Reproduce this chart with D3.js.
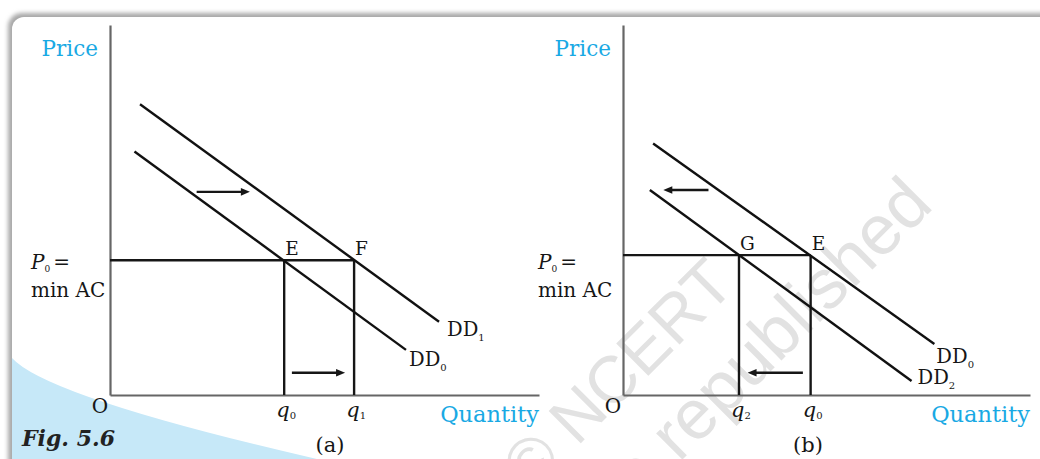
<!DOCTYPE html>
<html>

<head>
    <meta charset="UTF-8">
    <title>Fig. 5.6</title>
    <style>
        body { margin: 0; background: #fff; }
        svg text { font-family: "DejaVu Serif", serif; }
    </style>
</head>

<body>
    <script src="https://cdn.jsdelivr.net/npm/d3@7"></script>

    <svg id="svg" width="1040" height="459"></svg>

    <script>
        // values are on a 0-100 scale for each panel
        // panel (a): demand shifts out, DD0 -> DD1
        const curvesA = [
            { name: "DD", sub: "1", pts: [[7.0, 78.6], [76.7, 19.8]] },
            { name: "DD", sub: "0", pts: [[5.7, 65.8], [69.0, 12.2]] }
        ];
        const priceA = 36.4;
        const pointsA = [
            { tag: "E", q: "q", sub: "0", x: 40.6 },
            { tag: "F", q: "q", sub: "1", x: 56.9 }
        ];
        const arrowsA = [
            [[20.2, 54.9], [32.6, 54.9]],
            [[42.4, 6.0], [54.8, 6.0]]
        ];

        // panel (b): demand shifts in, DD0 -> DD2
        const curvesB = [
            { name: "DD", sub: "0", pts: [[7.4, 68.0], [76.5, 13.8]] },
            { name: "DD", sub: "2", pts: [[6.6, 55.4], [70.9, 3.8]] }
        ];
        const priceB = 37.8;
        const pointsB = [
            { tag: "G", q: "q", sub: "2", x: 28.5 },
            { tag: "E", q: "q", sub: "0", x: 46.1 }
        ];
        const arrowsB = [
            [[21.0, 55.4], [9.9, 55.4]],
            [[44.2, 6.0], [30.6, 6.0]]
        ];

        const blue = "#19a9e4";
        const ink = "#161616";
        const svg = d3.select("#svg");

        // card frame with shadow
        const defs = svg.append("defs");
        defs.append("filter").attr("id", "blur")
            .attr("x", "-5%").attr("y", "-5%").attr("width", "110%").attr("height", "110%")
            .append("feGaussianBlur").attr("stdDeviation", 2.2);
        defs.append("clipPath").attr("id", "card")
            .append("rect").attr("x", 12).attr("y", 17).attr("width", 1100).attr("height", 600).attr("rx", 12);

        svg.append("rect").attr("x", 8).attr("y", 13).attr("width", 1100).attr("height", 600)
            .attr("rx", 14).attr("fill", "#a8a8a8").attr("filter", "url(#blur)");
        svg.append("rect").attr("x", 12).attr("y", 17).attr("width", 1100).attr("height", 600)
            .attr("rx", 12).attr("fill", "#fff");
        svg.append("path").attr("clip-path", "url(#card)")
            .attr("d", "M12,358 Q48,398 330,462 L12,462 Z")
            .attr("fill", "#c6e8f8");

        // watermark
        const wm = svg.append("g").attr("fill", "#e2e2e2");
        wm.append("text").attr("transform", "translate(737,287) rotate(-45)")
            .attr("text-anchor", "end").style("font-family", "'Liberation Sans', sans-serif")
            .attr("font-size", 66).text("\u00a9 NCERT");
        wm.append("text").attr("transform", "translate(935,207) rotate(-45)")
            .attr("text-anchor", "end").style("font-family", "'Liberation Sans', sans-serif")
            .attr("font-size", 70).text("not to be republished");

        const drawPanel = function (cfg) {
            const x = d3.scaleLinear().domain([0, 100]).range(cfg.xr);
            const y = d3.scaleLinear().domain([0, 100]).range([395, 25]);
            const g = svg.append("g");

            // axes (no ticks, only the domain line)
            g.append("g").attr("transform", `translate(0,${y(0)})`)
                .call(d3.axisBottom(x).tickValues([]).tickSizeOuter(0));
            g.append("g").attr("transform", `translate(${x(0)},0)`)
                .call(d3.axisLeft(y).tickValues([]).tickSizeOuter(0));
            g.selectAll(".domain").attr("stroke", "#666").attr("stroke-width", 2.2);

            const line = d3.line().x(d => x(d[0])).y(d => y(d[1]));

            // price line and the two quantity drops
            const right = d3.max(cfg.points, d => d.x);
            g.append("path").attr("d", line([[0, cfg.price], [right, cfg.price]]))
                .attr("stroke", ink).attr("stroke-width", 2.4).attr("fill", "none");
            g.selectAll(".drop").data(cfg.points).enter().append("path")
                .attr("d", d => line([[d.x, 0], [d.x, cfg.price]]))
                .attr("stroke", ink).attr("stroke-width", 2.4).attr("fill", "none");

            // demand curves
            g.selectAll(".dd").data(cfg.curves).enter().append("path")
                .attr("d", d => line(d.pts))
                .attr("stroke", "#111").attr("stroke-width", 2.4).attr("fill", "none");
            cfg.curves.forEach((c, i) => {
                const end = c.pts[1];
                const t = g.append("text")
                    .attr("x", x(end[0]) + cfg.curveLab[i][0])
                    .attr("y", y(end[1]) + cfg.curveLab[i][1])
                    .attr("font-size", 19.5).attr("fill", ink);
                t.append("tspan").text(c.name);
                t.append("tspan").attr("font-size", 10).attr("dy", 5).text(c.sub);
            });

            // shift arrows
            cfg.arrows.forEach(a => {
                const x0 = x(a[0][0]), x1 = x(a[1][0]), yy = y(a[0][1]);
                const dir = x1 > x0 ? 1 : -1;
                g.append("line").attr("x1", x0).attr("x2", x1 - dir * 6).attr("y1", yy).attr("y2", yy)
                    .attr("stroke", ink).attr("stroke-width", 2.4);
                g.append("path")
                    .attr("d", `M${x1},${yy} L${x1 - dir * 9},${yy - 3.8} L${x1 - dir * 9},${yy + 3.8} Z`)
                    .attr("fill", ink);
            });

            // point tags E, F, G
            g.selectAll(".tag").data(cfg.points).enter().append("text")
                .attr("x", d => x(d.x) + 1)
                .attr("y", y(cfg.price) - 5)
                .attr("font-size", 18.5).attr("fill", ink)
                .text(d => d.tag);

            // quantity labels
            cfg.points.forEach(p => {
                const t = g.append("text").attr("x", x(p.x) + 2).attr("y", 417)
                    .attr("text-anchor", "middle").attr("font-size", 21).attr("fill", ink);
                t.append("tspan").attr("font-style", "italic").text(p.q);
                t.append("tspan").attr("font-size", 10).attr("dy", 2).text(p.sub);
            });

            // origin
            g.append("text").attr("x", x(0) - 10).attr("y", 413)
                .attr("text-anchor", "middle").attr("font-size", 20).attr("fill", ink).text("O");

            // axis titles
            g.append("text").attr("x", x(0) - 12).attr("y", 56)
                .attr("text-anchor", "end").attr("font-size", 21.5).attr("fill", blue).text("Price");
            g.append("text").attr("x", x(100)).attr("y", 422)
                .attr("text-anchor", "end").attr("font-size", 22.5).attr("fill", blue).text("Quantity");

            // P0 = min AC
            const p = g.append("text").attr("x", x(0) - cfg.pGap).attr("y", 269)
                .attr("font-size", 20).attr("fill", ink);
            p.append("tspan").attr("font-style", "italic").text("P");
            p.append("tspan").attr("font-size", 9).attr("dy", 3).text("0");
            p.append("tspan").attr("dy", -3).attr("dx", 3).text("=");
            g.append("text").attr("x", x(0) - cfg.pGap).attr("y", 297)
                .attr("font-size", 20).attr("fill", ink).text("min AC");

            // panel letter
            g.append("text").attr("x", cfg.labelX).attr("y", 452)
                .attr("text-anchor", "middle").attr("font-size", 21).attr("fill", ink).text(cfg.label);
        };

        drawPanel({
            xr: [110, 539], curves: curvesA, price: priceA, points: pointsA, arrows: arrowsA,
            curveLab: [[8, 14], [3, 16]], label: "(a)", labelX: 330, pGap: 79
        });
        drawPanel({
            xr: [623, 1030], curves: curvesB, price: priceB, points: pointsB, arrows: arrowsB,
            curveLab: [[2, 19], [6, 3]], label: "(b)", labelX: 808, pGap: 85
        });

        // figure caption
        svg.append("text").attr("x", 22).attr("y", 446)
            .attr("font-size", 22).attr("font-weight", "bold").attr("font-style", "italic")
            .attr("fill", "#222").text("Fig. 5.6");
    </script>

</body>

</html>
